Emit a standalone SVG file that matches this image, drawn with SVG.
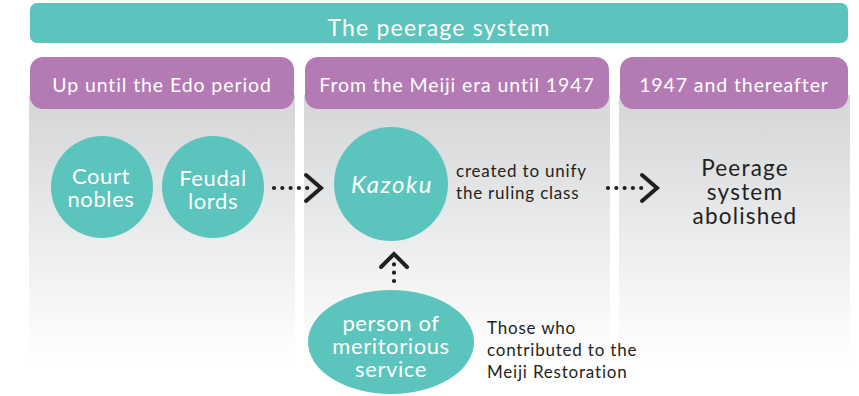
<svg xmlns="http://www.w3.org/2000/svg" width="859" height="396" viewBox="0 0 859 396">
<defs>
<linearGradient id="g" x1="0" y1="0" x2="0" y2="1">
<stop offset="0" stop-color="#d4d5d7"/>
<stop offset="0.6" stop-color="#eeeff0"/>
<stop offset="1" stop-color="#ffffff"/>
</linearGradient>
<style>
text{font-family:Lato,"Noto Sans","Liberation Sans",sans-serif}
.hd{fill:#b47ab3}
.teal{fill:#5bc4bc}
.w{fill:#fff;text-anchor:middle}
.k{fill:#231f20}
.hdt{font-size:19.5px;letter-spacing:0.9px}
.body{font-size:17px;letter-spacing:0.8px}
.big{font-size:22px;letter-spacing:0.6px}
.dots{stroke:#231f20;stroke-width:4.2;stroke-linecap:round;stroke-dasharray:0 8.3;fill:none}
.chev{stroke:#231f20;stroke-width:4;fill:none;stroke-linecap:round;stroke-linejoin:miter}
</style>
</defs>
<rect width="859" height="396" fill="#fff"/>
<g id="title">
<rect x="30" y="3" width="818" height="40" rx="7" class="teal"/>
<text x="439" y="36" class="w" font-size="23" letter-spacing="1.2">The peerage system</text>
</g>
<g id="col1">
<rect x="29" y="95" width="266" height="267" fill="url(#g)"/>
<rect x="30" y="57" width="264" height="52" rx="13" class="hd"/>
<text x="162" y="92" class="w hdt">Up until the Edo period</text>
</g>
<g id="col2">
<rect x="304" y="95" width="306" height="267" fill="url(#g)"/>
<rect x="305" y="57" width="304" height="52" rx="13" class="hd"/>
<text x="457" y="92" class="w hdt">From the Meiji era until 1947</text>
</g>
<g id="col3">
<rect x="619" y="95" width="231" height="267" fill="url(#g)"/>
<rect x="620" y="57" width="228" height="52" rx="13" class="hd"/>
<text x="734" y="92" class="w hdt">1947 and thereafter</text>
</g>
<g id="court-nobles">
<circle cx="102" cy="187" r="51" class="teal"/>
<text class="w big"><tspan x="101" y="184">Court</tspan><tspan x="101" y="207">nobles</tspan></text>
</g>
<g id="feudal-lords">
<circle cx="213" cy="187" r="51" class="teal"/>
<text class="w big"><tspan x="213" y="186">Feudal</tspan><tspan x="213" y="209">lords</tspan></text>
</g>
<g id="kazoku">
<circle cx="391" cy="184" r="57" class="teal"/>
<text x="392" y="193" class="w" font-size="24" letter-spacing="1.5" font-style="italic">Kazoku</text>
<text class="k body"><tspan x="456" y="177">created to unify</tspan><tspan x="456" y="199">the ruling class</tspan></text>
</g>
<g id="abolished">
<text class="k" font-size="22.5" letter-spacing="1.2" text-anchor="middle"><tspan x="745" y="176">Peerage</tspan><tspan x="745" y="200">system</tspan><tspan x="745" y="224">abolished</tspan></text>
</g>
<g id="meritorious">
<ellipse cx="391" cy="342" rx="83" ry="52" class="teal"/>
<text class="w big"><tspan x="391" y="331">person of</tspan><tspan x="391" y="354">meritorious</tspan><tspan x="391" y="377">service</tspan></text>
<text class="k body"><tspan x="487" y="334">Those who</tspan><tspan x="487" y="356">contributed to the</tspan><tspan x="487" y="378">Meiji Restoration</tspan></text>
</g>
<g id="connectors">
<line x1="274" y1="188" x2="310" y2="188" class="dots"/>
<polyline points="306,175 321,188 306,201" class="chev"/>
<line x1="608" y1="188" x2="644" y2="188" class="dots"/>
<polyline points="642,175 657,188 642,201" class="chev"/>
<line x1="394" y1="281" x2="394" y2="258" class="dots" stroke-dasharray="0 8.5"/>
<polyline points="381,267 394,254 407,267" class="chev"/>
</g>
</svg>
